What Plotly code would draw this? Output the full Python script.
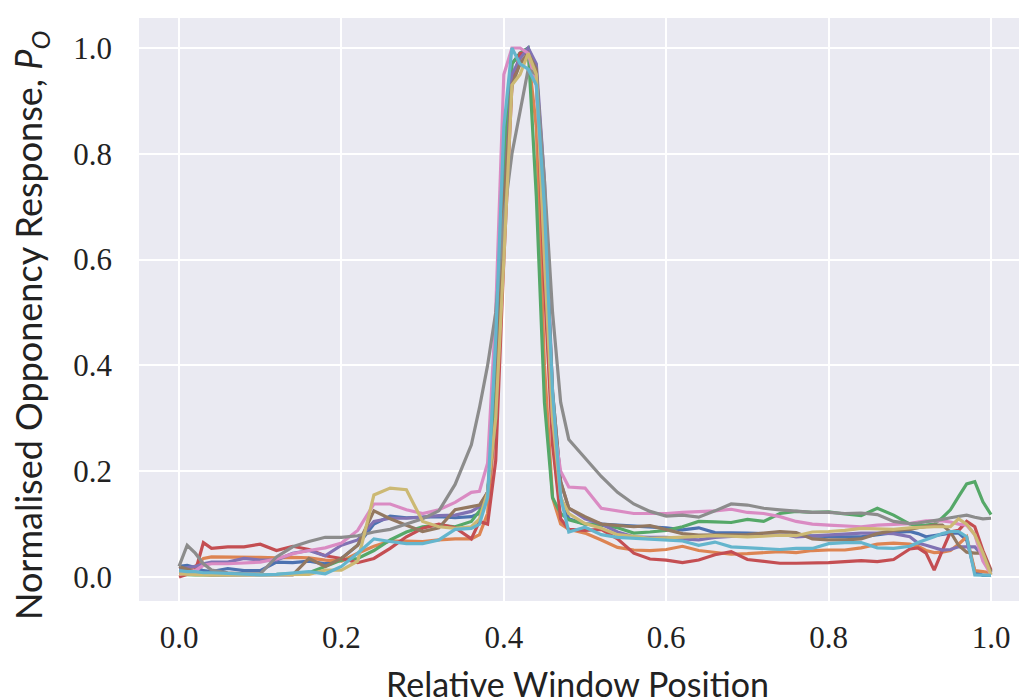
import plotly.graph_objects as go

x_pos = [0.00, 0.01, 0.02, 0.03, 0.04, 0.06, 0.08, 0.10, 0.12, 0.14, 0.16, 0.18, 0.20,
         0.22, 0.24, 0.26, 0.28, 0.30, 0.32, 0.34, 0.36,
         0.37, 0.38, 0.39, 0.40, 0.41, 0.42, 0.43, 0.44, 0.45, 0.46, 0.47, 0.48,
         0.50, 0.52, 0.54, 0.56, 0.58, 0.60, 0.62, 0.64, 0.66, 0.68, 0.70, 0.72,
         0.74, 0.76, 0.78, 0.80, 0.82, 0.84, 0.86, 0.88,
         0.90, 0.91, 0.92, 0.93, 0.94, 0.95, 0.96, 0.97, 0.98, 0.99, 1.00]

s_blue = [0.020, 0.022, 0.018, 0.012, 0.010, 0.016, 0.012, 0.012, 0.028, 0.027, 0.030, 0.025, 0.035,
          0.060, 0.100, 0.115, 0.112, 0.113, 0.114, 0.112, 0.114,
          0.120, 0.150, 0.300, 0.750, 0.970, 0.990, 1.000, 0.950, 0.600, 0.300, 0.150, 0.110,
          0.100, 0.100, 0.098, 0.096, 0.094, 0.093, 0.089, 0.093, 0.084, 0.084, 0.083, 0.082,
          0.081, 0.078, 0.077, 0.076, 0.076, 0.076, 0.080, 0.084,
          0.086, 0.082, 0.076, 0.078, 0.080, 0.083, 0.083, 0.070, 0.010, 0.003, 0.003]

s_orange = [0.010, 0.012, 0.020, 0.035, 0.038, 0.038, 0.038, 0.037, 0.036, 0.037, 0.036, 0.032, 0.030,
            0.045, 0.058, 0.068, 0.068, 0.067, 0.070, 0.072, 0.072,
            0.080, 0.120, 0.300, 0.700, 0.950, 0.970, 0.990, 0.850, 0.400, 0.150, 0.100, 0.090,
            0.083, 0.070, 0.056, 0.051, 0.050, 0.052, 0.058, 0.050, 0.046, 0.043, 0.044, 0.046,
            0.048, 0.046, 0.050, 0.051, 0.051, 0.055, 0.062, 0.064,
            0.062, 0.058, 0.050, 0.046, 0.047, 0.050, 0.062, 0.076, 0.012, 0.010, 0.008]

s_green = [0.005, 0.004, 0.004, 0.004, 0.004, 0.005, 0.005, 0.004, 0.005, 0.006, 0.008, 0.020, 0.032,
           0.035, 0.050, 0.070, 0.085, 0.095, 0.098, 0.095, 0.105,
           0.125, 0.160, 0.350, 0.800, 0.970, 0.990, 1.000, 0.720, 0.330, 0.150, 0.120, 0.108,
           0.100, 0.098, 0.093, 0.083, 0.085, 0.088, 0.095, 0.105, 0.104, 0.103, 0.109, 0.105,
           0.120, 0.124, 0.122, 0.123, 0.119, 0.116, 0.130, 0.117,
           0.100, 0.097, 0.098, 0.100, 0.112, 0.127, 0.152, 0.176, 0.180, 0.142, 0.118]

s_red = [0.000, 0.005, 0.010, 0.065, 0.054, 0.057, 0.057, 0.062, 0.050, 0.058, 0.052, 0.040, 0.035,
         0.027, 0.035, 0.054, 0.076, 0.092, 0.100, 0.093, 0.072,
         0.105, 0.100, 0.220, 0.600, 0.930, 0.990, 0.990, 0.950, 0.550, 0.250, 0.110, 0.090,
         0.088, 0.090, 0.072, 0.045, 0.034, 0.032, 0.027, 0.032, 0.042, 0.048, 0.033, 0.030,
         0.026, 0.026, 0.026, 0.027, 0.029, 0.031, 0.029, 0.033,
         0.053, 0.055, 0.045, 0.013, 0.050, 0.085, 0.088, 0.105, 0.095, 0.050, 0.013]

s_purple = [0.015, 0.018, 0.020, 0.025, 0.028, 0.028, 0.035, 0.032, 0.032, 0.045, 0.050, 0.040, 0.060,
            0.070, 0.105, 0.111, 0.111, 0.113, 0.116, 0.117, 0.124,
            0.133, 0.160, 0.300, 0.700, 0.950, 0.980, 1.000, 0.970, 0.750, 0.350, 0.180, 0.130,
            0.110, 0.100, 0.085, 0.076, 0.075, 0.075, 0.072, 0.070, 0.075, 0.077, 0.079, 0.080,
            0.082, 0.076, 0.078, 0.079, 0.082, 0.083, 0.083, 0.082,
            0.076, 0.064, 0.060, 0.055, 0.051, 0.052, 0.057, 0.057, 0.057, 0.040, 0.008]

s_brown = [0.020, 0.015, 0.010, 0.005, 0.004, 0.004, 0.004, 0.004, 0.004, 0.004, 0.035, 0.020, 0.035,
           0.060, 0.125, 0.110, 0.098, 0.086, 0.093, 0.127, 0.133,
           0.136, 0.160, 0.300, 0.700, 0.930, 0.970, 0.990, 0.960, 0.700, 0.350, 0.180, 0.130,
           0.114, 0.100, 0.097, 0.095, 0.097, 0.090, 0.082, 0.079, 0.079, 0.079, 0.080, 0.083,
           0.086, 0.084, 0.072, 0.070, 0.070, 0.072, 0.082, 0.088,
           0.090, 0.093, 0.096, 0.098, 0.098, 0.085, 0.060, 0.047, 0.045, 0.045, 0.010]

s_pink = [0.005, 0.008, 0.012, 0.022, 0.025, 0.025, 0.026, 0.028, 0.034, 0.044, 0.050, 0.055, 0.064,
          0.088, 0.138, 0.138, 0.127, 0.120, 0.127, 0.141, 0.160,
          0.162, 0.215, 0.500, 0.950, 1.000, 1.000, 0.990, 0.930, 0.650, 0.300, 0.200, 0.170,
          0.168, 0.130, 0.125, 0.120, 0.120, 0.120, 0.122, 0.123, 0.125, 0.128, 0.122, 0.120,
          0.114, 0.105, 0.100, 0.098, 0.097, 0.095, 0.098, 0.100,
          0.101, 0.104, 0.106, 0.106, 0.106, 0.104, 0.100, 0.098, 0.080, 0.030, 0.005]

s_gray = [0.020, 0.060, 0.045, 0.025, 0.013, 0.008, 0.006, 0.006, 0.038, 0.057, 0.067, 0.075, 0.075,
          0.078, 0.085, 0.090, 0.100, 0.110, 0.125, 0.175, 0.250,
          0.320, 0.400, 0.500, 0.680, 0.800, 0.880, 0.960, 0.950, 0.750, 0.500, 0.330, 0.260,
          0.225, 0.190, 0.160, 0.138, 0.124, 0.115, 0.117, 0.113, 0.125, 0.138, 0.136, 0.130,
          0.127, 0.124, 0.122, 0.122, 0.120, 0.121, 0.118, 0.105,
          0.101, 0.102, 0.104, 0.106, 0.109, 0.112, 0.115, 0.117, 0.113, 0.110, 0.111]

s_olive = [0.006, 0.005, 0.004, 0.004, 0.004, 0.004, 0.004, 0.004, 0.004, 0.004, 0.005, 0.013, 0.013,
           0.030, 0.155, 0.168, 0.165, 0.105, 0.095, 0.092, 0.095,
           0.110, 0.160, 0.300, 0.600, 0.930, 0.950, 0.990, 0.950, 0.600, 0.300, 0.150, 0.120,
           0.101, 0.092, 0.080, 0.076, 0.073, 0.074, 0.075, 0.076, 0.078, 0.077, 0.076, 0.077,
           0.079, 0.078, 0.085, 0.086, 0.088, 0.092, 0.091, 0.090,
           0.093, 0.094, 0.095, 0.095, 0.095, 0.095, 0.110, 0.100, 0.080, 0.045, 0.004]

s_cyan = [0.012, 0.010, 0.010, 0.008, 0.008, 0.007, 0.006, 0.004, 0.005, 0.007, 0.010, 0.006, 0.020,
          0.045, 0.072, 0.067, 0.063, 0.063, 0.070, 0.090, 0.092,
          0.100, 0.150, 0.450, 0.850, 1.000, 0.970, 0.960, 0.930, 0.700, 0.350, 0.150, 0.085,
          0.094, 0.080, 0.075, 0.073, 0.072, 0.070, 0.068, 0.060, 0.066, 0.057, 0.055, 0.054,
          0.052, 0.054, 0.054, 0.063, 0.065, 0.065, 0.055, 0.054,
          0.058, 0.065, 0.070, 0.076, 0.082, 0.086, 0.086, 0.076, 0.004, 0.003, 0.003]

series = [s_blue, s_orange, s_green, s_red, s_purple, s_brown, s_pink, s_gray, s_olive, s_cyan]
colors = ['#4C72B0', '#DD8452', '#55A868', '#C44E52', '#8172B3',
          '#937860', '#DA8BC3', '#8C8C8C', '#CCB974', '#64B5CD']

tick_vals = [0.0, 0.2, 0.4, 0.6, 0.8, 1.0]
tick_text = ['0.0', '0.2', '0.4', '0.6', '0.8', '1.0']

fig = go.Figure()
for s, c in zip(series, colors):
    fig.add_trace(go.Scatter(x=x_pos, y=s, mode='lines',
                             line=dict(color=c, width=3.2), showlegend=False))

# the page body adds an 8 px offset; margins are set in figure coordinates
W, H = 1027, 700
L, R, T, B = 131, 8, 10, 107
pw, ph = W - L - R, H - T - B

fig.update_layout(
    width=W, height=H,
    margin=dict(l=L, r=R, t=T, b=B),
    paper_bgcolor='white', plot_bgcolor='#EAEAF2',
    showlegend=False,
)
tickfont = dict(family='Liberation Serif, DejaVu Serif, serif', size=31, color='#222222')
fig.update_xaxes(range=[-0.0493, 1.0443], tickvals=tick_vals, ticktext=tick_text,
                 showgrid=True, gridcolor='white', gridwidth=2, zeroline=False,
                 showline=False, ticks='', tickfont=tickfont, ticklabelstandoff=15)
fig.update_yaxes(range=[-0.0454, 1.0567], tickvals=tick_vals, ticktext=tick_text,
                 showgrid=True, gridcolor='white', gridwidth=2, zeroline=False,
                 showline=False, ticks='', tickfont=tickfont, ticklabelstandoff=26)

xfont = dict(family='Lato, Noto Sans, sans-serif', size=34, color='#222222')
yfont = dict(family='Lato, Noto Sans, sans-serif', size=36, color='#222222')
fig.add_annotation(text='Relative Window Position', xref='paper', yref='paper',
                   x=(569 - L) / pw, y=(H - B - 675) / ph, xanchor='center', yanchor='middle',
                   showarrow=False, font=xfont)
fig.add_annotation(text='Normalised Opponency Response, <i>P</i><sub><i>O</i></sub>',
                   xref='paper', yref='paper', textangle=-90,
                   x=(22 - L) / pw, y=(H - B - 318) / ph, xanchor='center', yanchor='middle',
                   showarrow=False, font=yfont)

fig.write_html('out.html')
